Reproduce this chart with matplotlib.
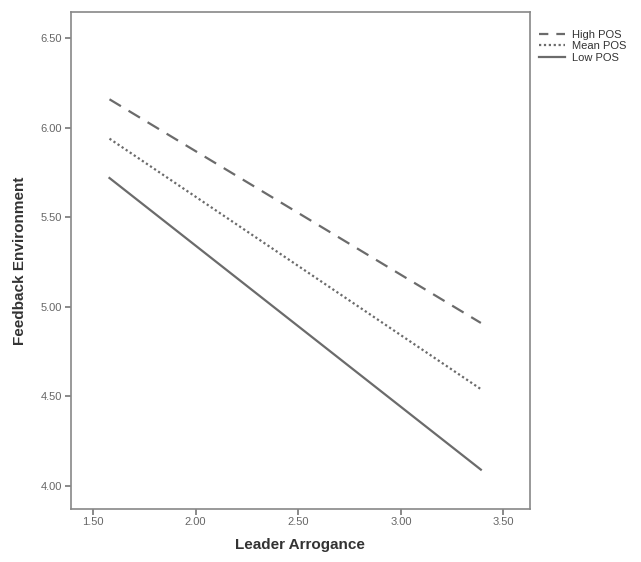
import matplotlib
matplotlib.use('Agg')
import matplotlib.pyplot as plt
from matplotlib.lines import Line2D

# data
arrogance = [1.58, 3.39]
high_pos = [6.16, 4.91]
mean_pos = [5.94, 4.54]
low_pos = [5.72, 4.09]
series_names = ['High POS', 'Mean POS', 'Low POS']
x_ticks = [1.5, 2.0, 2.5, 3.0, 3.5]
y_ticks = [4.0, 4.5, 5.0, 5.5, 6.0, 6.5]

plt.rcParams['font.family'] = ['Liberation Sans', 'DejaVu Sans']

fig = plt.figure(figsize=(6.41, 5.62), dpi=100)
ax = fig.add_axes([0.110, 0.0943, 0.717, 0.885])

line_col = '#6b6b6b'
ax.plot(arrogance, high_pos, color=line_col, lw=1.6, dashes=(6, 4))
ax.plot(arrogance, mean_pos, color=line_col, lw=1.6, dashes=(1, 1.2))
ax.plot(arrogance, low_pos, color=line_col, lw=1.6)

ax.set_xlim(1.39, 3.63)
ax.set_ylim(3.87, 6.65)
ax.set_xticks(x_ticks)
ax.set_yticks(y_ticks)
ax.set_xticklabels([f'{v:.2f}' for v in x_ticks])
ax.set_yticklabels([f'{v:.2f}' for v in y_ticks])
ax.tick_params(direction='out', length=4, width=1.2, colors='#777777',
               labelsize=8, labelcolor='#666666', pad=2)
for s in ax.spines.values():
    s.set_color('#888888')
    s.set_linewidth(1.2)

ax.set_xlabel('Leader Arrogance', fontsize=11, fontweight='bold', color='#333333', labelpad=8)
ax.set_ylabel('Feedback Environment', fontsize=11, fontweight='bold', color='#333333', labelpad=10)

# legend outside the plot, top right
handles = [Line2D([], [], color=line_col, lw=1.6, dashes=(4.2, 3.6)),
           Line2D([], [], color=line_col, lw=1.6, dashes=(1, 1.2)),
           Line2D([], [], color=line_col, lw=1.6)]
fig.legend(handles, series_names, loc='upper left', bbox_to_anchor=(0.825, 0.965),
           frameon=False, fontsize=8, handlelength=2.4, handletextpad=0.6,
           labelspacing=0.15, labelcolor='#333333')

fig.savefig('out.png', dpi=100)
